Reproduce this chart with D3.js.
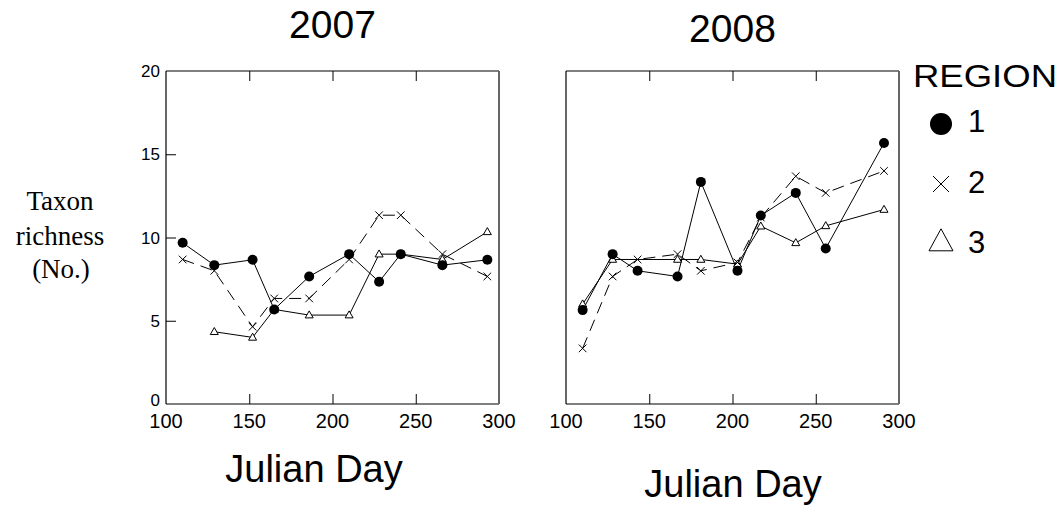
<!DOCTYPE html>
<html>
<head>
<meta charset="utf-8">
<script src="https://cdn.jsdelivr.net/npm/d3@7"></script>
<style>
	body { margin: 0; background: #fff; }
	svg { display: block; font-family: "Liberation Sans", Arial, sans-serif; }
</style>
</head>
<body>
<svg id="chart" width="1063" height="514"></svg>
<script>
var years = ["2007", "2008"];
var regions = ["1", "2", "3"];
var xTicks = [100, 150, 200, 250, 300];
var yTicks = [0, 5, 10, 15, 20];

// 2007
var day07r1 = [110, 129, 152, 165, 186, 210, 228, 241, 266, 293];
var val07r1 = [9.68, 8.34, 8.66, 5.68, 7.66, 9.0, 7.34, 9.0, 8.34, 8.66];
var day07r2 = [110, 129, 152, 165, 186, 210, 228, 241, 266, 293];
var val07r2 = [8.68, 8.0, 4.64, 6.34, 6.34, 8.68, 11.34, 11.34, 9.0, 7.66];
var day07r3 = [129, 152, 165, 186, 210, 228, 241, 266, 293];
var val07r3 = [4.34, 4.0, 5.68, 5.34, 5.34, 9.0, 9.0, 8.68, 10.34];

// 2008
var day08r1 = [110, 128, 143, 167, 181, 203, 217, 238, 256, 291];
var val08r1 = [5.64, 9.0, 8.0, 7.66, 13.34, 8.0, 11.32, 12.68, 9.34, 15.68];
var day08r2 = [110, 128, 143, 167, 181, 203, 217, 238, 256, 291];
var val08r2 = [3.34, 7.66, 8.68, 9.0, 8.0, 8.5, 11.2, 13.68, 12.68, 14.0];
var day08r3 = [110, 128, 167, 181, 203, 217, 238, 256, 291];
var val08r3 = [6.0, 8.68, 8.68, 8.68, 8.4, 10.68, 9.68, 10.7, 11.68];

var zip = function(days, vals)
{
	return days.map(function(d, i) { return { day: d, val: vals[i] }; });
};

var panels = [
	{ year: years[0], left: 166, series: [zip(day07r1, val07r1), zip(day07r2, val07r2), zip(day07r3, val07r3)], titleY: 38, labelX: 314, labelY: 482, yLabels: true },
	{ year: years[1], left: 566, series: [zip(day08r1, val08r1), zip(day08r2, val08r2), zip(day08r3, val08r3)], titleY: 42, labelX: 733, labelY: 497, yLabels: false }
];

var svg = d3.select("#chart");
var plotTop = 71, plotBottom = 404, plotWidth = 333;

var y = d3.scaleLinear().domain([0, 20]).range([plotBottom, plotTop]);

var triPath = function(cx, cy, w, h)
{
	return "M" + cx + "," + (cy - h * 0.6) + "L" + (cx + w / 2) + "," + (cy + h * 0.4) + "L" + (cx - w / 2) + "," + (cy + h * 0.4) + "Z";
};

var crossPath = function(cx, cy, s)
{
	return "M" + (cx - s) + "," + (cy - s) + "L" + (cx + s) + "," + (cy + s) + "M" + (cx - s) + "," + (cy + s) + "L" + (cx + s) + "," + (cy - s);
};

var drawMarker = function(g, type, cx, cy, big)
{
	if (type == 0)
	{
		g.append("circle").attr("cx", cx).attr("cy", cy).attr("r", big ? 11 : 5).attr("fill", "#000");
	}
	else if (type == 1)
	{
		g.append("path").attr("d", crossPath(cx, cy, big ? 8 : 3.8))
			.attr("stroke", "#000").attr("stroke-width", 1).attr("fill", "none");
	}
	else
	{
		g.append("path").attr("d", big ? triPath(cx, cy, 24, 22) : triPath(cx, cy, 8, 7))
			.attr("stroke", "#000").attr("stroke-width", 1).attr("fill", "#fff");
	}
};

panels.forEach(function(p)
{
	var x = d3.scaleLinear().domain([100, 300]).range([p.left, p.left + plotWidth]);
	var g = svg.append("g");

	// Frame
	g.append("line").attr("x1", p.left).attr("x2", p.left + plotWidth).attr("y1", plotTop).attr("y2", plotTop)
		.attr("stroke", "#000").attr("stroke-width", 1.2);
	g.append("line").attr("x1", p.left).attr("x2", p.left + plotWidth).attr("y1", plotBottom).attr("y2", plotBottom)
		.attr("stroke", "#000").attr("stroke-width", 1.2);
	g.append("line").attr("x1", p.left).attr("x2", p.left).attr("y1", plotTop).attr("y2", plotBottom)
		.attr("stroke", "#000").attr("stroke-width", 1.2);
	g.append("line").attr("x1", p.left + plotWidth).attr("x2", p.left + plotWidth).attr("y1", plotTop).attr("y2", plotBottom)
		.attr("stroke", "#666").attr("stroke-width", 2);

	// Inward ticks, top and bottom
	var inner = xTicks.slice(1, -1);
	g.append("g").attr("transform", "translate(0," + plotBottom + ")")
		.call(d3.axisBottom(x).tickValues(inner).tickSize(-10).tickFormat(""))
		.call(function(a) { a.select(".domain").remove(); });
	g.append("g").attr("transform", "translate(0," + plotTop + ")")
		.call(d3.axisTop(x).tickValues(inner).tickSize(-10).tickFormat(""))
		.call(function(a) { a.select(".domain").remove(); });

	// X labels
	g.selectAll(".xlab").data(xTicks).enter().append("text")
		.attr("x", function(d) { return x(d); })
		.attr("y", 428)
		.attr("text-anchor", "middle")
		.attr("font-size", 20)
		.text(function(d) { return d; });

	if (p.yLabels)
	{
		g.append("g").attr("transform", "translate(" + p.left + ",0)")
			.call(d3.axisLeft(y).tickValues(yTicks.slice(1, -1)).tickSize(-10).tickFormat(""))
			.call(function(a) { a.select(".domain").remove(); });
		g.selectAll(".ylab").data(yTicks).enter().append("text")
			.attr("x", 160)
			.attr("y", function(d) { return y(d) + (d == 0 ? 2 : 6); })
			.attr("text-anchor", "end")
			.attr("font-size", 17)
			.text(function(d) { return d; });
	}

	g.selectAll(".tick line").attr("stroke", "#000");

	// Title and x label
	g.append("text").attr("x", p.left + plotWidth / 2).attr("y", p.titleY)
		.attr("text-anchor", "middle").attr("font-size", 39).text(p.year);
	g.append("text").attr("x", p.labelX).attr("y", p.labelY)
		.attr("text-anchor", "middle").attr("font-size", 38).text("Julian Day");

	// Series
	var line = d3.line().x(function(d) { return x(d.day); }).y(function(d) { return y(d.val); });
	var order = [2, 1, 0];
	order.forEach(function(s)
	{
		g.append("path").datum(p.series[s])
			.attr("d", line)
			.attr("fill", "none")
			.attr("stroke", "#000")
			.attr("stroke-width", 1)
			.attr("stroke-dasharray", s == 1 ? "12,7" : null);
	});
	order.forEach(function(s)
	{
		p.series[s].forEach(function(d)
		{
			drawMarker(g, s, x(d.day), y(d.val), false);
		});
	});
});

// Y label
var yl = svg.append("text").attr("font-family", "'Liberation Serif', 'Times New Roman', serif")
	.attr("font-size", 27).attr("text-anchor", "middle");
yl.append("tspan").attr("x", 60).attr("y", 210).text("Taxon");
yl.append("tspan").attr("x", 60).attr("y", 245).text("richness");
yl.append("tspan").attr("x", 61).attr("y", 278).text("(No.)");

// Legend
var lg = svg.append("g");
lg.append("text").attr("x", 913).attr("y", 87).attr("font-size", 31)
	.attr("textLength", 144).attr("lengthAdjust", "spacingAndGlyphs").text("REGION");
var legendY = [124, 184, 242];
var legendBase = [132, 193, 253];
regions.forEach(function(r, i)
{
	drawMarker(lg, i, 941, legendY[i], true);
	lg.append("text").attr("x", 968).attr("y", legendBase[i]).attr("font-size", 31).text(r);
});
</script>
</body>
</html>
